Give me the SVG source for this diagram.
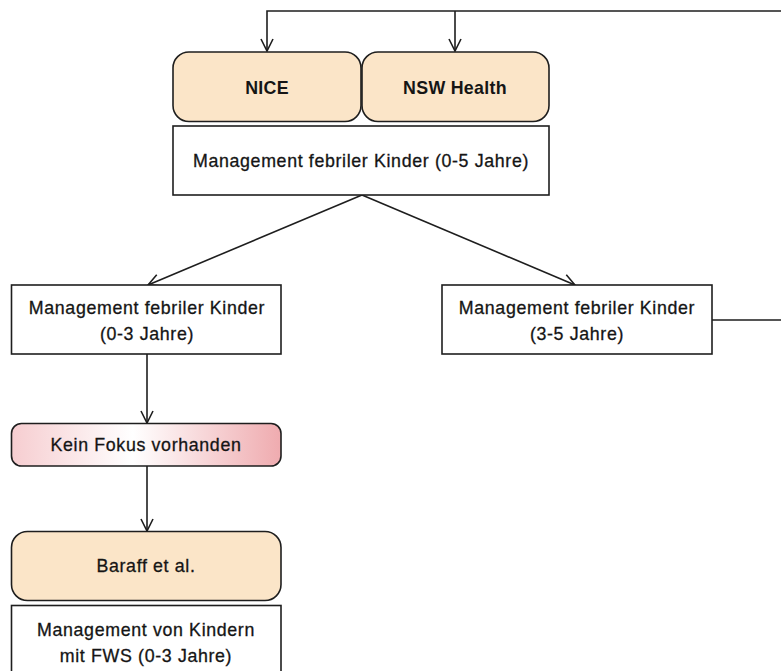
<svg xmlns="http://www.w3.org/2000/svg" width="781" height="671" viewBox="0 0 781 671">
<style>
.box{stroke:#1e1e1e;stroke-width:1.6}
.src{fill:#fbe5c8}
.plain{fill:#fff}
.t{font-family:"Liberation Sans",Arial,sans-serif;font-size:17.8px;letter-spacing:0.65px;fill:#151515;stroke:#151515;stroke-width:0.3;text-anchor:middle}
.b{font-weight:bold;letter-spacing:0.3px;stroke-width:0}
.c{fill:none;stroke:#1e1e1e;stroke-width:1.6}
</style>
<defs>
<marker id="arr" viewBox="0 0 14 14" refX="13" refY="7" markerWidth="14" markerHeight="14" markerUnits="userSpaceOnUse" orient="auto">
<path d="M1,1 L13,7 L1,13" fill="none" stroke="#1e1e1e" stroke-width="1.6"/>
</marker>
<linearGradient id="pink" x1="0" y1="0" x2="1" y2="0">
<stop offset="0" stop-color="#f6cdd0"/>
<stop offset="0.45" stop-color="#ffffff"/>
<stop offset="1" stop-color="#efabaf"/>
</linearGradient>
</defs>
<rect width="781" height="671" fill="#fff"/>
<g id="connectors">
<path class="c" d="M712,320 H800 V11 H267 V51" marker-end="url(#arr)"/>
<path class="c" d="M455,11 V51" marker-end="url(#arr)"/>
<path class="c" d="M362,195 L148,285" marker-end="url(#arr)"/>
<path class="c" d="M362,195 L575,285" marker-end="url(#arr)"/>
<path class="c" d="M147,354 V423" marker-end="url(#arr)"/>
<path class="c" d="M147,466 V531" marker-end="url(#arr)"/>
</g>
<g id="nice">
<rect class="box src" x="173" y="52" width="188" height="69.5" rx="16"/>
<text class="t b" x="267" y="94">NICE</text>
</g>
<g id="nsw">
<rect class="box src" x="362" y="52" width="187" height="69.5" rx="16"/>
<text class="t b" x="455" y="94">NSW Health</text>
</g>
<g id="main">
<rect class="box plain" x="173" y="126" width="376" height="69"/>
<text class="t" x="361" y="167">Management febriler Kinder (0-5 Jahre)</text>
</g>
<g id="left">
<rect class="box plain" x="11.5" y="285" width="269.5" height="69"/>
<text class="t" x="147" y="314">Management febriler Kinder</text>
<text class="t" x="147" y="340">(0-3 Jahre)</text>
</g>
<g id="right">
<rect class="box plain" x="442" y="285" width="270" height="69"/>
<text class="t" x="577" y="314">Management febriler Kinder</text>
<text class="t" x="577" y="340">(3-5 Jahre)</text>
</g>
<g id="kein">
<rect class="box" fill="url(#pink)" x="11.5" y="423.5" width="269.5" height="42.5" rx="10"/>
<text class="t" x="146" y="451">Kein Fokus vorhanden</text>
</g>
<g id="baraff">
<rect class="box src" x="11.5" y="531.5" width="269.5" height="69" rx="16"/>
<text class="t" x="146" y="572">Baraff et al.</text>
</g>
<g id="bottom">
<rect class="box plain" x="11.5" y="605.5" width="269.5" height="80"/>
<text class="t" x="146" y="636">Management von Kindern</text>
<text class="t" x="146" y="662">mit FWS (0-3 Jahre)</text>
</g>
</svg>
